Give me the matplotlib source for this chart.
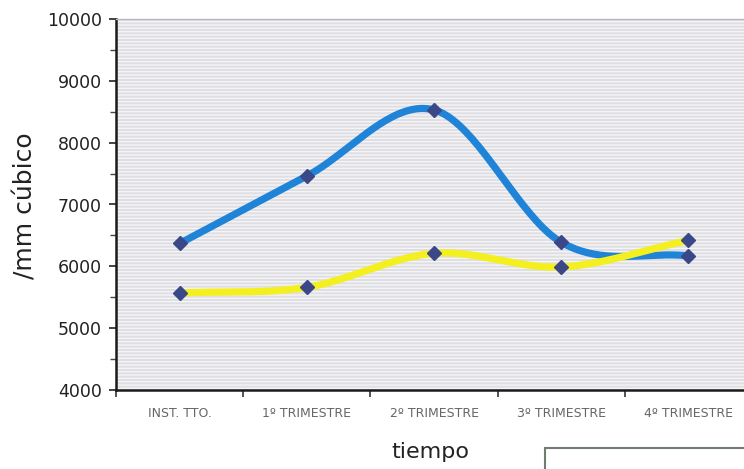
import numpy as np
import matplotlib
matplotlib.use("Agg")
import matplotlib.pyplot as plt
from matplotlib.patches import Rectangle
from matplotlib.ticker import MultipleLocator, FixedLocator

# Data
categories = ["INST. TTO.", "1º TRIMESTRE", "2º TRIMESTRE", "3º TRIMESTRE", "4º TRIMESTRE"]
serie_azul = [6370, 7460, 8530, 6390, 6170]
serie_amarilla = [5570, 5660, 6210, 5990, 6420]


def smooth(xs, ys, n=40):
    """Catmull-Rom spline through the points (like a smoothed line)."""
    xs = np.asarray(xs, float)
    ys = np.asarray(ys, float)
    px = np.concatenate([[2 * xs[0] - xs[1]], xs, [2 * xs[-1] - xs[-2]]])
    py = np.concatenate([[2 * ys[0] - ys[1]], ys, [2 * ys[-1] - ys[-2]]])
    out_x, out_y = [], []
    for i in range(1, len(px) - 2):
        t = np.linspace(0, 1, n, endpoint=(i == len(px) - 3))
        for arr, out in ((px, out_x), (py, out_y)):
            p0, p1, p2, p3 = arr[i - 1], arr[i], arr[i + 1], arr[i + 2]
            out.extend(0.5 * ((2 * p1) + (-p0 + p2) * t
                              + (2 * p0 - 5 * p1 + 4 * p2 - p3) * t ** 2
                              + (-p0 + 3 * p1 - 3 * p2 + p3) * t ** 3))
    return np.array(out_x), np.array(out_y)


W, H = 744, 469
fig = plt.figure(figsize=(W / 100, H / 100), dpi=100)
fig.patch.set_facecolor("white")

left, right, top, bottom = 116, 752, 19, 390
ax = fig.add_axes([left / W, 1 - bottom / H, (right - left) / W, (bottom - top) / H])

# textured grey plot area
ax.patch.set_facecolor("#dedee3")
ax.patch.set_hatch("-----")
ax.patch.set_edgecolor("#f5f5f7")
ax.patch.set_linewidth(0)

x = np.arange(len(categories))
for vals, color in ((serie_azul, "#1f84d8"), (serie_amarilla, "#f4ef1e")):
    sx, sy = smooth(x, vals)
    ax.plot(sx, sy, color=color, lw=5.2, solid_capstyle="round", zorder=3)
for vals in (serie_azul, serie_amarilla):
    ax.plot(x, vals, linestyle="none", marker="D", markersize=7.5,
            color="#3b4888", markeredgecolor="#3b4888", zorder=4)

ax.set_xlim(-0.5, len(categories) - 0.5)
ax.set_ylim(4000, 10000)

ax.yaxis.set_major_locator(MultipleLocator(1000))
ax.yaxis.set_minor_locator(MultipleLocator(500))
ax.tick_params(axis="y", which="major", length=5, width=1.2, pad=5,
               labelsize=12.5, labelcolor="#222222", color="#222222")
ax.tick_params(axis="y", which="minor", length=4, width=1.0, color="#444444")

ax.set_xticks(x)
ax.set_xticklabels(categories)
ax.xaxis.set_minor_locator(FixedLocator(np.arange(-0.5, len(categories), 1.0)))
ax.tick_params(axis="x", which="major", length=0, pad=12,
               labelsize=9, labelcolor="#666666")
ax.tick_params(axis="x", which="minor", length=5, width=1.2, color="#333333")

for s in ("left", "bottom"):
    ax.spines[s].set_color("#1a1a1a")
    ax.spines[s].set_linewidth(1.8)
ax.spines["top"].set_color("#b8b8bc")
ax.spines["top"].set_linewidth(1.0)
ax.spines["right"].set_visible(False)

fig.text(26 / W, 1 - 206 / H, "/mm cúbico", rotation=90, fontsize=18,
         color="#222222", ha="center", va="center")
fig.text(430 / W, 1 - 452 / H, "tiempo", fontsize=16,
         color="#222222", ha="center", va="center")

# legend frame at the lower right
fig.patches.append(Rectangle((545 / W, -0.05), 0.6, (469 - 448) / H + 0.05,
                             transform=fig.transFigure, facecolor="white",
                             edgecolor="#6f7d6f", linewidth=1.5))

fig.savefig("out.png", dpi=100)
